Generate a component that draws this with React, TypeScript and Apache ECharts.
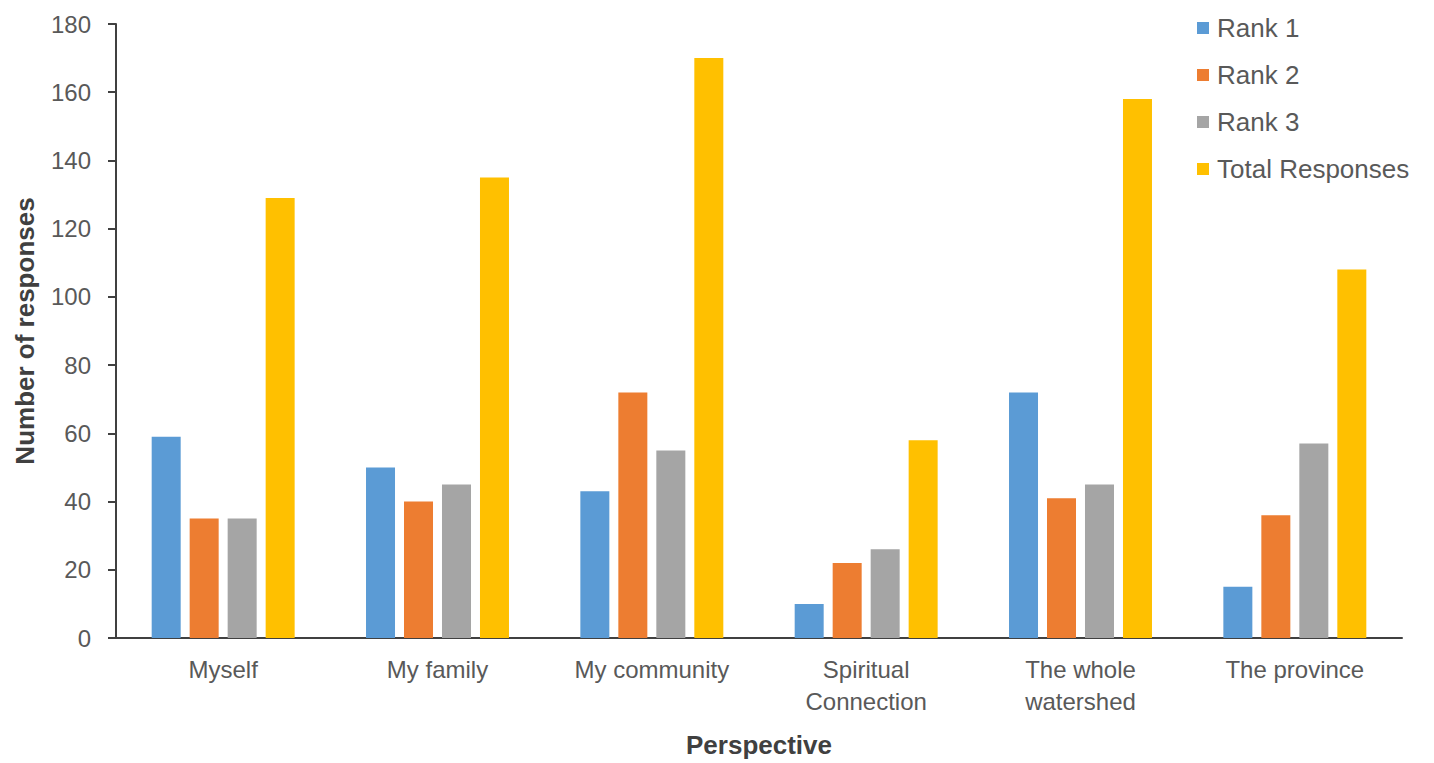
import React, { useEffect, useRef } from "react";
import * as echarts from "echarts";

const categories = [
  "Myself",
  "My family",
  "My community",
  "Spiritual\nConnection",
  "The whole\nwatershed",
  "The province",
];
const rank1 = [59, 50, 43, 10, 72, 15];
const rank2 = [35, 40, 72, 22, 41, 36];
const rank3 = [35, 45, 55, 26, 45, 57];
const totalResponses = [129, 135, 170, 58, 158, 108];
const seriesNames = ["Rank 1", "Rank 2", "Rank 3", "Total Responses"];
const seriesColors = ["#5B9BD5", "#ED7D31", "#A5A5A5", "#FFC000"];
const yTicks = { min: 0, max: 180, interval: 20 };

const FONT = "'Liberation Sans', Arial, Helvetica, sans-serif";

export default function App() {
  const ref = useRef<HTMLDivElement>(null);
  useEffect(() => {
    if (!ref.current) return;
    const chart = echarts.init(ref.current, undefined, { renderer: "svg" });
    const values = [rank1, rank2, rank3, totalResponses];
    chart.setOption({
      animation: false,
      backgroundColor: "#ffffff",
      textStyle: { fontFamily: FONT },
      grid: { left: 116, right: 32, top: 24, bottom: 121, containLabel: false },
      legend: {
        orient: "vertical",
        left: 1192,
        top: 8,
        itemWidth: 12,
        itemHeight: 12,
        itemGap: 17,
        icon: "rect",
        data: seriesNames,
        textStyle: {
          fontFamily: FONT,
          fontSize: 26,
          lineHeight: 30,
          color: "#595959",
          padding: [0, 0, 0, 3],
        },
      },
      xAxis: {
        type: "category",
        data: categories,
        name: "Perspective",
        nameLocation: "middle",
        nameGap: 94,
        nameTextStyle: {
          fontFamily: FONT,
          fontSize: 26,
          fontWeight: "bold",
          color: "#404040",
        },
        axisLine: { show: true, lineStyle: { color: "#404040", width: 2 } },
        axisTick: { show: false },
        axisLabel: {
          fontFamily: FONT,
          fontSize: 24,
          lineHeight: 32,
          color: "#595959",
          margin: 15,
          interval: 0,
        },
      },
      yAxis: {
        type: "value",
        min: yTicks.min,
        max: yTicks.max,
        interval: yTicks.interval,
        name: "Number of responses",
        nameLocation: "middle",
        nameGap: 78,
        nameTextStyle: {
          fontFamily: FONT,
          fontSize: 26,
          fontWeight: "bold",
          color: "#404040",
        },
        axisLine: { show: true, lineStyle: { color: "#404040", width: 2 } },
        axisTick: { show: true, length: 8, lineStyle: { color: "#404040", width: 2 } },
        splitLine: { show: false },
        axisLabel: {
          fontFamily: FONT,
          fontSize: 24,
          color: "#595959",
          margin: 25,
        },
      },
      series: seriesNames.map((name, i) => ({
        name,
        type: "bar",
        data: values[i],
        barWidth: 29,
        barGap: "31%",
        itemStyle: { color: seriesColors[i] },
      })),
    });
    return () => chart.dispose();
  }, []);
  return (
    <div
      ref={ref}
      style={{ position: "fixed", left: 0, top: 0, width: 1434, height: 763 }}
    />
  );
}
